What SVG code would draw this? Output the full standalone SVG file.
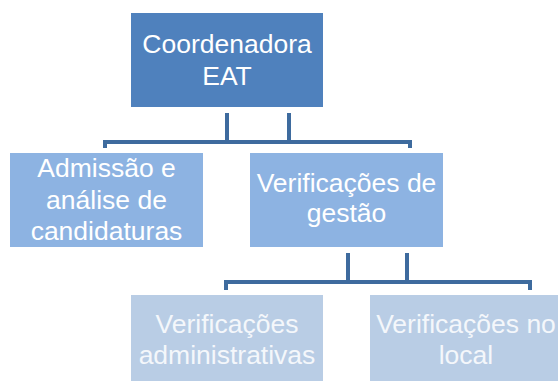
<svg xmlns="http://www.w3.org/2000/svg" width="558" height="381" viewBox="0 0 558 381">
<style>
text{font-family:"Liberation Sans",Arial,sans-serif;font-size:26.5px;fill:#ffffff;text-anchor:middle}
.l0{fill:#4F81BD}
.l1{fill:#8DB3E2}
.l2{fill:#B9CDE5}
.b2 text{fill:#F4F7FB}
.conn{fill:none;stroke:#3E6B9E;stroke-width:4}
</style>
<rect width="558" height="381" fill="#ffffff"/>
<g id="connectors" class="conn">
<path d="M227,113 V142 M289,113 V142 M105,148 V142 H410 V148"/>
<path d="M348,253 V282 M407,253 V282 M226,290 V282 H530 V290"/>
</g>
<g id="coordenadora">
<rect class="l0" x="131" y="13" width="192" height="94"/>
<text x="227" y="53">Coordenadora</text>
<text x="227" y="85">EAT</text>
</g>
<g id="admissao">
<rect class="l1" x="10" y="153" width="193" height="94"/>
<text x="106.5" y="177">Admissão e</text>
<text x="106.5" y="209">análise de</text>
<text x="106.5" y="240">candidaturas</text>
</g>
<g id="gestao">
<rect class="l1" x="250" y="153" width="193" height="94"/>
<text x="346.5" y="192">Verificações de</text>
<text x="346.5" y="222">gestão</text>
</g>
<g id="administrativas" class="b2">
<rect class="l2" x="131" y="295" width="192" height="86"/>
<text x="227" y="333">Verificações</text>
<text x="227" y="364">administrativas</text>
</g>
<g id="local" class="b2">
<rect class="l2" x="370" y="295" width="192" height="86"/>
<text x="466" y="333">Verificações no</text>
<text x="466" y="364">local</text>
</g>
</svg>
